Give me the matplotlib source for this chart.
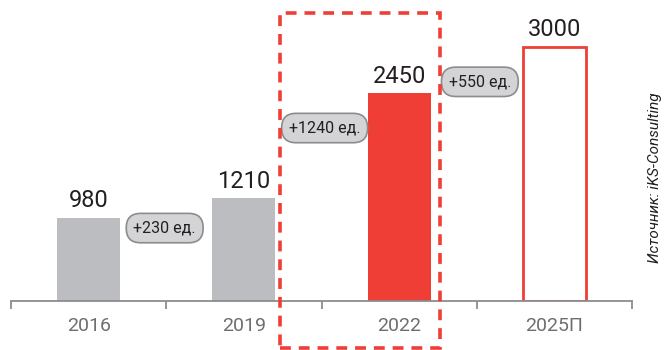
import matplotlib.pyplot as plt
from matplotlib.patches import Rectangle

plt.rcParams['font.family'] = ['Liberation Sans Narrow', 'Roboto', 'DejaVu Sans']

# Data
years = ['2016', '2019', '2022', '2025П']
values = [980, 1210, 2450, 3000]
deltas = ['+230 ед.', '+1240 ед.', '+550 ед.']
delta_x = [0.49, 1.52, 2.52]
delta_y = [860, 2040, 2585]

red = '#ee3e36'
grey = '#bcbdc1'

fig = plt.figure(figsize=(6.66, 3.5), dpi=100)
ax = fig.add_axes([11 / 666, 49 / 350, 621 / 666, 301 / 350])
ax.set_xlim(-0.5, 3.5)
ax.set_ylim(0, 3550)

x = range(len(years))
faces = [grey, grey, red, 'white']
edges = [grey, grey, red, red]
ax.bar(x, values, width=0.405, color=faces, edgecolor=edges, linewidth=[0, 0, 0, 2])

# value labels above bars
for i, v in enumerate(values):
    ax.annotate(str(v), (i, v), textcoords='offset points', xytext=(0, 4),
                ha='center', va='bottom', fontsize=17, color='#231f20')

# growth pills
for dx, dy, t in zip(delta_x, delta_y, deltas):
    ax.text(dx, dy, t, ha='center', va='center', fontsize=11.5, color='#231f20',
            bbox=dict(boxstyle='round,pad=0.45,rounding_size=0.9',
                      facecolor='#d4d4d6', edgecolor='#8c8c8e', linewidth=1.2))

# axis styling
for s in ['top', 'right', 'left']:
    ax.spines[s].set_visible(False)
ax.spines['bottom'].set_color('#8c8c8e')
ax.spines['bottom'].set_linewidth(1.3)
ax.set_yticks([])
ax.set_xticks([-0.5, 0.5, 1.5, 2.5, 3.5], minor=False)
ax.set_xticklabels([])
ax.tick_params(axis='x', length=6, width=1.3, color='#8c8c8e')
for i, y in enumerate(years):
    ax.text(i, -190, y, ha='center', va='top', fontsize=14, color='#6d6e71')

# dashed highlight frame around 2022
fig.patches.append(Rectangle((280 / 666, 2 / 350), 160 / 666, 335 / 350,
                             transform=fig.transFigure, fill=False,
                             edgecolor=red, linewidth=2.6, linestyle=(0, (3, 2.2))))

# source note
fig.text(655 / 666, 172 / 350, 'Источник: iKS-Consulting', rotation=90,
         ha='center', va='center', fontsize=11, style='italic', color='#231f20')

fig.savefig('out.png', dpi=100)
